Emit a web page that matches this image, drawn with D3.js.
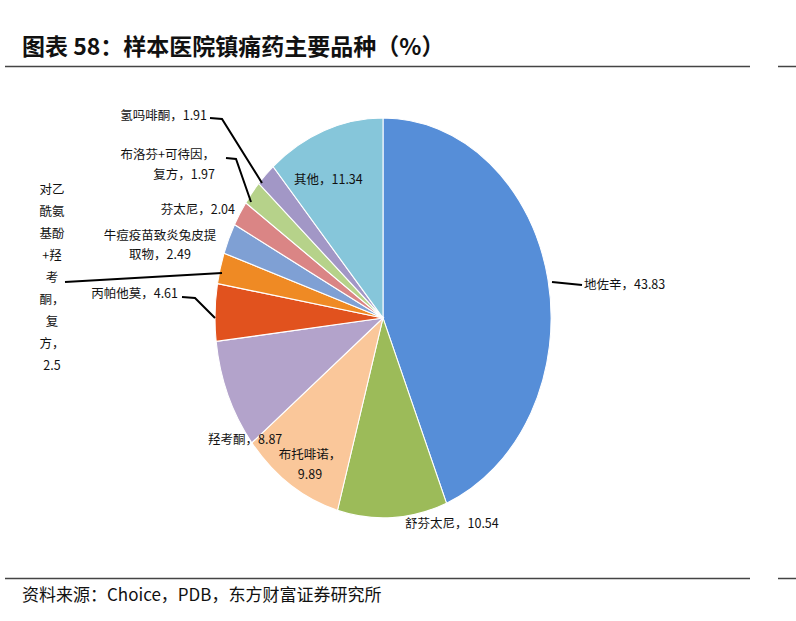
<!DOCTYPE html>
<html><head><meta charset="utf-8">
<script src="https://cdn.jsdelivr.net/npm/d3@7/dist/d3.min.js"></script>
<style>body{margin:0;background:#fff}text{font-family:"Noto Sans CJK SC",sans-serif}</style>
</head><body><svg id="c" width="796" height="621"></svg>
<script>
const categories=["地佐辛","舒芬太尼","布托啡诺","羟考酮","丙帕他莫","对乙酰氨基酚+羟考酮，复方","牛痘疫苗致炎兔皮提取物","芬太尼","布洛芬+可待因，复方","氢吗啡酮","其他"];
const values=[43.83,10.54,9.89,8.87,4.61,2.5,2.49,2.04,1.97,1.91,11.34];
const colors=["#568ED8","#9CBB59","#FAC79A","#B3A3CB","#E1521E","#EF8A24","#7FA0D4","#DA8585","#B6D28A","#A297C6","#86C6DA"];
const labelLayout=[
 {lines:["地佐辛，43.83"],x:584,y:289,a:"start",leader:[[552,282],[582,285]]},
 {lines:["舒芬太尼，10.54"],x:405,y:528,a:"start"},
 {lines:["布托啡诺，","9.89"],x:310,y:459,a:"middle",step:20},
 {lines:["羟考酮，8.87"],x:208,y:444,a:"start"},
 {lines:["丙帕他莫，4.61"],x:178,y:298,a:"end",leader:[[182,297],[195,298],[215,318]]},
 {lines:["对乙","酰氨","基酚","+羟","考","酮，","复","方，","2.5"],x:52,y:194,a:"middle",step:22,leader:[[65,282],[222,273]]},
 {lines:["牛痘疫苗致炎兔皮提","取物，2.49"],x:160,y:240,a:"middle",step:19},
 {lines:["芬太尼，2.04"],x:235,y:214,a:"end"},
 {lines:["布洛芬+可待因，","复方，1.97"],x:215,y:159,a:"end",step:20,leader:[[226,158],[236,159],[251,202]]},
 {lines:["氢吗啡酮，1.91"],x:207,y:120,a:"end",leader:[[210,118],[222,119],[262,183]]},
 {lines:["其他，11.34"],x:294,y:184,a:"start"}
];
const s=d3.select("#c");
s.append("text").attr("x",22).attr("y",55).attr("font-size",23).attr("font-weight","bold").attr("fill","#111").text("图表 58：样本医院镇痛药主要品种（%）");
[66.5,578.5].forEach(y=>{
  s.append("line").attr("x1",5).attr("x2",750).attr("y1",y).attr("y2",y).attr("stroke","#444").attr("stroke-width",1.5);
  s.append("line").attr("x1",778).attr("x2",796).attr("y1",y).attr("y2",y).attr("stroke","#444").attr("stroke-width",1.5);
});
s.append("text").attr("x",22).attr("y",601).attr("font-size",17).attr("fill","#111").text("资料来源：Choice，PDB，东方财富证券研究所");
const cx=383,cy=318,rx=168,ry=200;
const pie=d3.pie().sort(null).value(d=>d)(values);
const arc=d3.arc().innerRadius(0).outerRadius(1);
const g=s.append("g").attr("transform",`translate(${cx},${cy}) scale(${rx},${ry})`);
g.selectAll("path").data(pie).join("path").attr("d",arc).attr("fill",(d,i)=>colors[i]).attr("stroke","#fff").attr("stroke-width",0.006);
labelLayout.forEach((L,i)=>{
  if(L.leader) s.append("path").attr("d",d3.line()(L.leader)).attr("fill","none").attr("stroke","#000").attr("stroke-width",2);
  const t=s.append("text").attr("font-size",12.5).attr("fill","#111").attr("text-anchor",L.a);
  L.lines.forEach((ln,j)=>t.append("tspan").attr("x",L.x).attr("y",L.y+j*(L.step||20)).text(ln));
});
</script>
</body></html>
